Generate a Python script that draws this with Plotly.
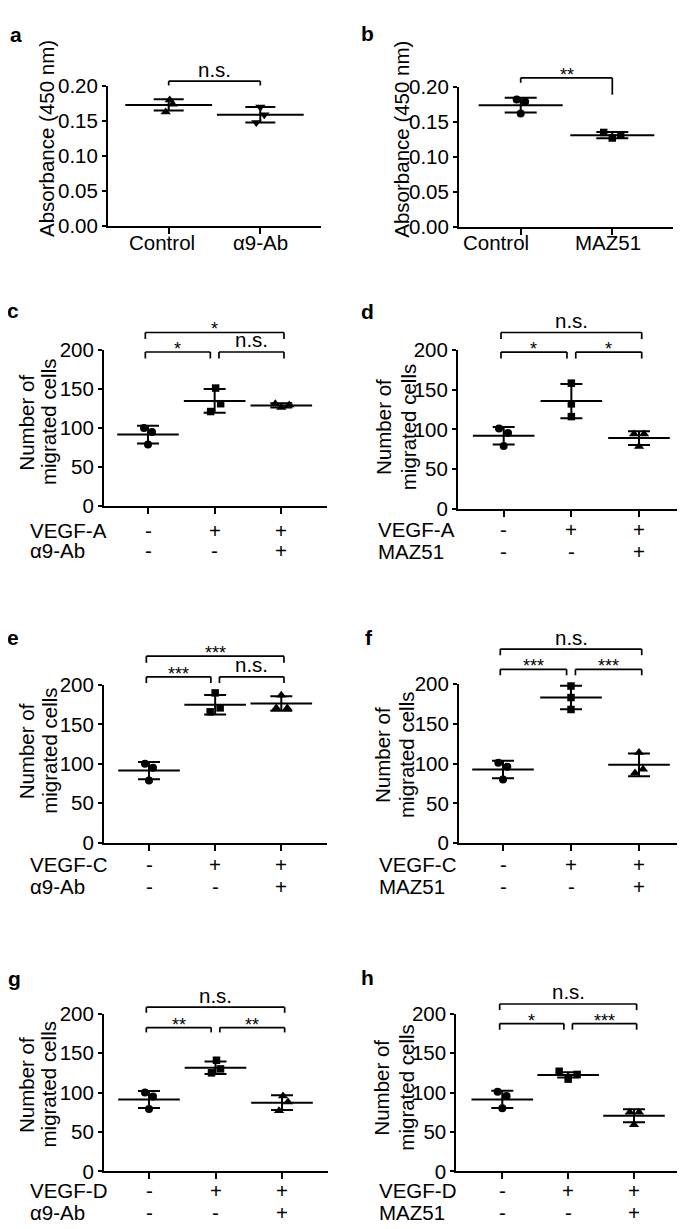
import plotly.graph_objects as go

W, H = 685, 1229
FONT = "Liberation Sans, Arial, sans-serif"
FS = 20.5

# ---------------- data ----------------
a_labels = ["Control", "α9-Ab"]
a_points = [[0.180, 0.174, 0.163], [0.170, 0.159, 0.148]]
a_mean = [0.173, 0.159]
a_sd = [0.008, 0.011]
a_sig = [(0, 1, "n.s.")]

b_labels = ["Control", "MAZ51"]
b_points = [[0.182, 0.179, 0.162], [0.135, 0.127, 0.131]]
b_mean = [0.174, 0.131]
b_sd = [0.0105, 0.0045]
b_sig = [(0, 1, "**")]

c_rows = [("VEGF-A", ["-", "+", "+"]), ("α9-Ab", ["-", "-", "+"])]
c_points = [[100, 95, 79], [151, 131, 121], [131, 126, 129.5]]
c_mean = [91.5, 134.5, 128.8]
c_sd = [11.2, 15.2, 2.8]
c_sig = [(0, 2, "*"), (0, 1, "*"), (1, 2, "n.s.")]

d_rows = [("VEGF-A", ["-", "+", "+"]), ("MAZ51", ["-", "-", "+"])]
d_points = [[101, 95.5, 79], [158, 132, 116], [94, 94, 78.5]]
d_mean = [92, 135.5, 89]
d_sd = [11, 21.5, 8.7]
d_sig = [(0, 2, "n.s."), (0, 1, "*"), (1, 2, "*")]

e_rows = [("VEGF-C", ["-", "+", "+"]), ("α9-Ab", ["-", "-", "+"])]
e_points = [[100, 95, 79], [190, 171, 166], [187, 171, 171]]
e_mean = [91.5, 175, 176.5]
e_sd = [11, 12.5, 9.2]
e_sig = [(0, 2, "***"), (0, 1, "***"), (1, 2, "n.s.")]

f_rows = [("VEGF-C", ["-", "+", "+"]), ("MAZ51", ["-", "-", "+"])]
f_points = [[101, 96, 80], [197.5, 183, 168], [114, 88, 93]]
f_mean = [92.5, 183, 98.5]
f_sd = [11, 14.7, 14.3]
f_sig = [(0, 2, "n.s."), (0, 1, "***"), (1, 2, "***")]

g_rows = [("VEGF-D", ["-", "+", "+"]), ("α9-Ab", ["-", "-", "+"])]
g_points = [[100, 95, 79], [141, 130, 125], [95.5, 88, 77]]
g_mean = [91.3, 131.5, 87.2]
g_sd = [10.8, 7.9, 9.5]
g_sig = [(0, 2, "n.s."), (0, 1, "**"), (1, 2, "**")]

h_rows = [("VEGF-D", ["-", "+", "+"]), ("MAZ51", ["-", "-", "+"])]
h_points = [[101, 95.5, 80], [127, 117, 123], [75, 75, 59]]
h_mean = [91.3, 122.4, 70.5]
h_sd = [11, 3.3, 8.3]
h_sig = [(0, 2, "n.s."), (0, 1, "*"), (1, 2, "***")]

ABS_TICKS = [0, 0.05, 0.10, 0.15, 0.20]
CELL_TICKS = [0, 50, 100, 150, 200]

# ---------------- layout / style (pixels) ----------------
SYM3 = ["circle", "square", "triangle-up"]
panels = [
    dict(letter="a", lpos=(8, 15), L=100, R=313, B=210, T=67.3, ticks=[160.7, 252.3],
         ymax=0.2, yticks=ABS_TICKS, fmt=".2f", pts=a_points, mean=a_mean, sd=a_sd,
         sym=["triangle-up", "triangle-down"], jit=[[1, 4, -3], [0, 4, -4]],
         mhw=31, cap=15, sig=a_sig, lev=[(0.207, 0.2008, 0.2008)],
         titles=[("Absorbance (450 nm)", 38.3, 121)],
         cats=a_labels, cat_shift=[-7, 0], cat_y=226.7),
    dict(letter="b", lpos=(359, 14), L=451, R=665, B=210.7, T=68.3, ticks=[512.7, 604.3],
         ymax=0.2, yticks=ABS_TICKS, fmt=".2f", pts=b_points, mean=b_mean, sd=b_sd,
         sym=["circle", "square"], jit=[[-4, 4.4, 0], [-8.6, 0, 8.4]],
         mhw=30, cap=16, sig=b_sig, lev=[(0.213, 0.206, 0.189)],
         titles=[("Absorbance (450 nm)", 393.3, 121.7)],
         cats=b_labels, cat_shift=[-25, -4], cat_y=226.7),
    dict(letter="c", lpos=(5, 296), L=96, R=319, B=495.5, T=336, ticks=[140, 206.7, 273.3],
         ymax=200, yticks=CELL_TICKS, fmt="d", pts=c_points, mean=c_mean, sd=c_sd,
         sym=SYM3, jit=[[-4, 4, 0], [1, 6, -4], [-6, 0, 8]], mhw=22, cap=11, sig=c_sig,
         lev=[(222, 213.8, 213.8), (197.1, 188.8, 188.8), (197.1, 188.8, 188.8)],
         titles=[("Number of", 18.3, 410), ("migrated cells", 40.7, 410)],
         rows=c_rows, row_x=22, row_y=[520, 541]),
    dict(letter="d", lpos=(359, 297.5), L=450, R=673, B=498.3, T=336, ticks=[495.7, 562.7, 631],
         ymax=200, yticks=CELL_TICKS, fmt="d", pts=d_points, mean=d_mean, sd=d_sd,
         sym=SYM3, jit=[[-4.7, 4.3, 0], [0, 0, 0], [-5, 5, 0]], mhw=22, cap=11, sig=d_sig,
         lev=[(221.6, 213.4, 213.4), (197, 188.9, 188.9), (197, 188.9, 188.9)],
         titles=[("Number of", 375.7, 415), ("migrated cells", 400, 415)],
         rows=d_rows, row_x=370, row_y=[519.3, 541.7]),
    dict(letter="e", lpos=(5, 629), L=96, R=319, B=838.4, T=677.7, ticks=[141, 207.3, 273.3],
         ymax=200, yticks=CELL_TICKS, fmt="d", pts=e_points, mean=e_mean, sd=e_sd,
         sym=SYM3, jit=[[-4, 4, 0], [0, 5, -5], [0, -5, 6]], mhw=22, cap=11, sig=e_sig,
         lev=[(236.6, 228.2, 228.2), (210.4, 202.5, 202.5), (210.4, 202.5, 202.5)],
         titles=[("Number of", 18.3, 745), ("migrated cells", 40.8, 745)],
         rows=e_rows, row_x=22, row_y=[861, 883.3]),
    dict(letter="f", lpos=(361, 629), L=451, R=673, B=838.8, T=676.7, ticks=[495, 562.7, 631],
         ymax=200, yticks=CELL_TICKS, fmt="d", pts=f_points, mean=f_mean, sd=f_sd,
         sym=SYM3, jit=[[-4.7, 4.3, 0], [0, 0, 0], [0, -4, 4]], mhw=22, cap=11, sig=f_sig,
         lev=[(244, 236.2, 236.2), (218.5, 211, 211), (218.5, 211, 211)],
         titles=[("Number of", 375, 749), ("migrated cells", 399, 749)],
         rows=f_rows, row_x=371, row_y=[861, 883.3]),
    dict(letter="g", lpos=(6, 977), L=96, R=320, B=1173.3, T=1012.7, ticks=[141, 207.3, 274],
         ymax=200, yticks=CELL_TICKS, fmt="d", pts=g_points, mean=g_mean, sd=g_sd,
         sym=SYM3, jit=[[-4, 4, 0], [1, 5, -4], [1, 6, -3]], mhw=22, cap=11, sig=g_sig,
         lev=[(208.3, 201.2, 201.2), (182.5, 176.3, 176.3), (182.5, 176.3, 176.3)],
         titles=[("Number of", 18.3, 1085), ("migrated cells", 40.8, 1085)],
         rows=g_rows, row_x=22, row_y=[1193.3, 1215.7]),
    dict(letter="h", lpos=(359, 976), L=448.3, R=671.7, B=1173.3, T=1012.7, ticks=[494.3, 560, 626],
         ymax=200, yticks=CELL_TICKS, fmt="d", pts=h_points, mean=h_mean, sd=h_sd,
         sym=SYM3, jit=[[-4.7, 4.3, 0], [-9, 0, 9], [-4.3, 5, 0]], mhw=22, cap=11, sig=h_sig,
         lev=[(212.4, 204.6, 204.6), (187.5, 179.7, 179.7), (187.5, 179.7, 179.7)],
         titles=[("Number of", 374, 1088), ("migrated cells", 399, 1088)],
         rows=h_rows, row_x=371, row_y=[1193.3, 1215.7]),
]

MSIZE = {"circle": 8, "square": 7.5, "triangle-up": 9, "triangle-down": 9}

fig = go.Figure()
axes = {}
annotations = []
shapes = []


def py(y):
    return 1 - y / H


def txt(text, **kw):
    d = dict(text=text, showarrow=False, borderpad=0, borderwidth=0,
             font=dict(family=FONT, size=FS, color="black"))
    d.update(kw)
    return d


for k, p in enumerate(panels, start=1):
    sfx = "" if k == 1 else str(k)
    xa, ya = "x" + sfx, "y" + sfx
    ticks = p["ticks"]
    n = len(ticks)
    s = (ticks[-1] - ticks[0]) / (n - 1)
    r0 = -(ticks[0] - p["L"]) / s
    r1 = (n - 1) + (p["R"] - ticks[-1]) / s
    axes["xaxis" + sfx] = dict(
        domain=[p["L"] / W, p["R"] / W], range=[r0, r1], anchor=ya,
        showline=True, linewidth=2, linecolor="black", ticks="outside", ticklen=6,
        tickwidth=2, tickcolor="black", tickvals=list(range(n)), showticklabels=False,
        showgrid=False, zeroline=False, fixedrange=True)
    axes["yaxis" + sfx] = dict(
        domain=[py(p["B"]), py(p["T"])], range=[0, p["ymax"]], anchor=xa,
        showline=True, linewidth=2, linecolor="black", ticks="outside", ticklen=4,
        tickwidth=2, tickcolor="black", tickvals=p["yticks"], tickformat=p["fmt"],
        tickfont=dict(family=FONT, size=FS, color="black"),
        showgrid=False, zeroline=False, fixedrange=True)

    # data: mean line + SD error bars, then individual points
    for g in range(n):
        fig.add_trace(go.Scatter(
            x=[g], y=[p["mean"][g]], mode="markers", xaxis=xa, yaxis=ya,
            marker=dict(symbol="line-ew", size=2 * p["mhw"], color="black",
                        line=dict(width=2, color="black")),
            error_y=dict(type="data", array=[p["sd"][g]], symmetric=True,
                         thickness=2, width=p["cap"], color="black"),
            cliponaxis=False, hoverinfo="skip", showlegend=False))
        sym = p["sym"][g]
        fig.add_trace(go.Scatter(
            x=[g + j / s for j in p["jit"][g]], y=p["pts"][g], mode="markers",
            xaxis=xa, yaxis=ya,
            marker=dict(symbol=sym, size=MSIZE[sym], color="black", line=dict(width=0)),
            cliponaxis=False, hoverinfo="skip", showlegend=False))

    # significance brackets
    ydom = ya + " domain"
    for (i, j, lab), (lev, legl, legr) in zip(p["sig"], p["lev"]):
        if n == 2:
            x0, x1 = i, j
        else:
            x0 = i - 0.04 if i == 0 else i + 0.065
            x1 = j + 0.04 if j == n - 1 else j - 0.065
        ym = p["ymax"]
        for (xa0, ya0, xa1, ya1) in [(x0, legl, x0, lev), (x0, lev, x1, lev), (x1, lev, x1, legr)]:
            shapes.append(dict(type="line", xref=xa, yref=ydom, x0=xa0, x1=xa1,
                               y0=ya0 / ym, y1=ya1 / ym, line=dict(color="black", width=1.7)))
        star = lab.startswith("*")
        annotations.append(txt(lab, xref=xa, yref=ydom, x=(x0 + x1) / 2, y=lev / ym,
                               xanchor="center", yanchor="bottom",
                               yshift=-7 if star else 0.5,
                               font=dict(family=FONT, size=18 if star else FS, color="black")))

    # y-axis titles
    for (t, tx, ty) in p["titles"]:
        annotations.append(txt(t, xref="paper", yref="paper", x=tx / W, y=py(ty),
                               xanchor="center", yanchor="middle", textangle=-90))

    # panel letter
    annotations.append(txt(p["letter"], xref="paper", yref="paper", x=p["lpos"][0] / W,
                           y=py(p["lpos"][1]), xanchor="center", yanchor="middle",
                           font=dict(family=FONT, size=21, color="black", weight="bold")))

    # category labels
    if "cats" in p:
        for g, (lab, sh) in enumerate(zip(p["cats"], p["cat_shift"])):
            annotations.append(txt(lab, xref=xa, yref="paper", x=g, y=py(p["cat_y"]),
                                   xanchor="center", yanchor="middle", xshift=sh))
    else:
        for (name, signs), ry in zip(p["rows"], p["row_y"]):
            annotations.append(txt(name, xref="paper", yref="paper", x=p["row_x"] / W,
                                   y=py(ry), xanchor="left", yanchor="middle"))
            for g, sgn in enumerate(signs):
                annotations.append(txt(sgn, xref=xa, yref="paper", x=g, y=py(ry),
                                       xanchor="center", yanchor="middle"))

fig.update_layout(
    width=W, height=H, margin=dict(l=0, r=0, t=0, b=0),
    paper_bgcolor="white", plot_bgcolor="white", showlegend=False,
    font=dict(family=FONT, size=FS, color="black"),
    annotations=annotations, shapes=shapes, **axes)

fig.write_html("out.html")
